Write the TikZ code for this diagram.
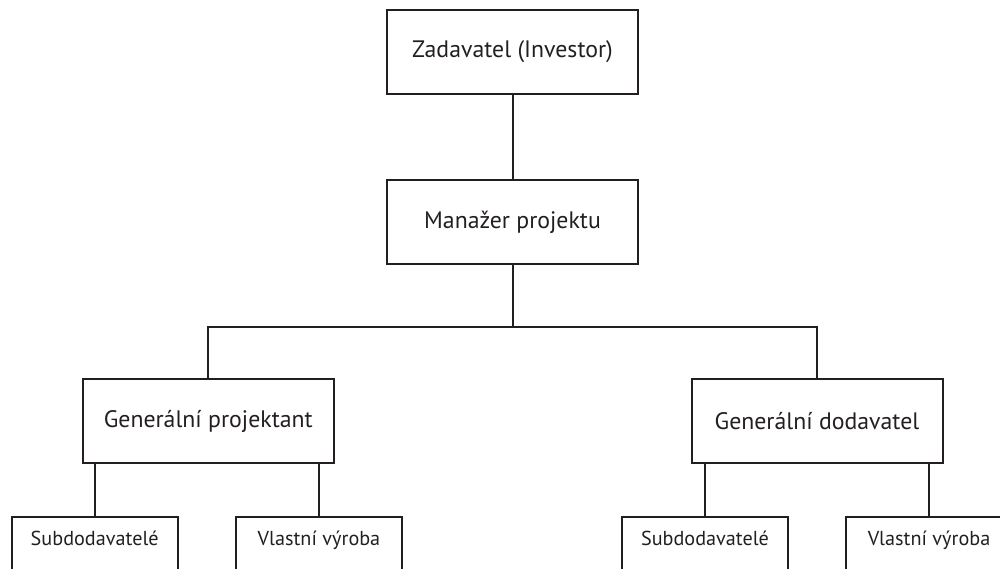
\documentclass[tikz,border=0pt]{standalone}
\usepackage{fontspec}
\setmainfont{PT Sans}
\usepackage{xcolor}
\usepackage{tikz}
\definecolor{ink}{HTML}{231F20}
\tikzset{
  every node/.append style={text=ink},
  box/.style={draw=ink, line width=1pt, minimum width=125.5pt, minimum height=42pt,
    inner sep=0pt, font=\fontsize{11.9}{14}\selectfont},
  subbox/.style={draw=ink, line width=1pt, anchor=north, minimum width=83pt,
    inner sep=0pt, text height=14.3pt, text depth=30pt, font=\fontsize{10.1}{12}\selectfont},
  link/.style={draw=ink, line width=1pt}
}

\begin{document}
\begin{tikzpicture}[x=0.5pt, y=-0.5pt]
    \clip (0,0) rectangle (1000,568);
    \node[box] (inv) at (512.5,52) {Zadavatel (Investor)};
    \node[box] (mgr) at (512.5,222) {Manažer projektu};
    \node[box] (gp) at (208.3,421) {Generální projektant};
    \node[box] (gd) at (817,421) {Generální dodavatel};
    % lower level, boxes run past the bottom edge
    \node[subbox] (gpsub) at (94.7,516) {Subdodavatelé};
    \node[subbox] (gpown) at (319,516) {Vlastní výroba};
    \node[subbox] (gdsub) at (705,516) {Subdodavatelé};
    \node[subbox] (gdown) at (929,516) {Vlastní výroba};
    \coordinate (bus) at (512.5,326.7);
    \draw[link] (inv) -- (mgr);
    \draw[link] (mgr.south) -- (bus);
    \draw[link] (gp.north) |- (bus) -| (gd.north);
    \draw[link] (gp.south -| gpsub.north) -- (gpsub.north);
    \draw[link] (gp.south -| gpown.north) -- (gpown.north);
    \draw[link] (gd.south -| gdsub.north) -- (gdsub.north);
    \draw[link] (gd.south -| gdown.north) -- (gdown.north);
\end{tikzpicture}
\end{document}
